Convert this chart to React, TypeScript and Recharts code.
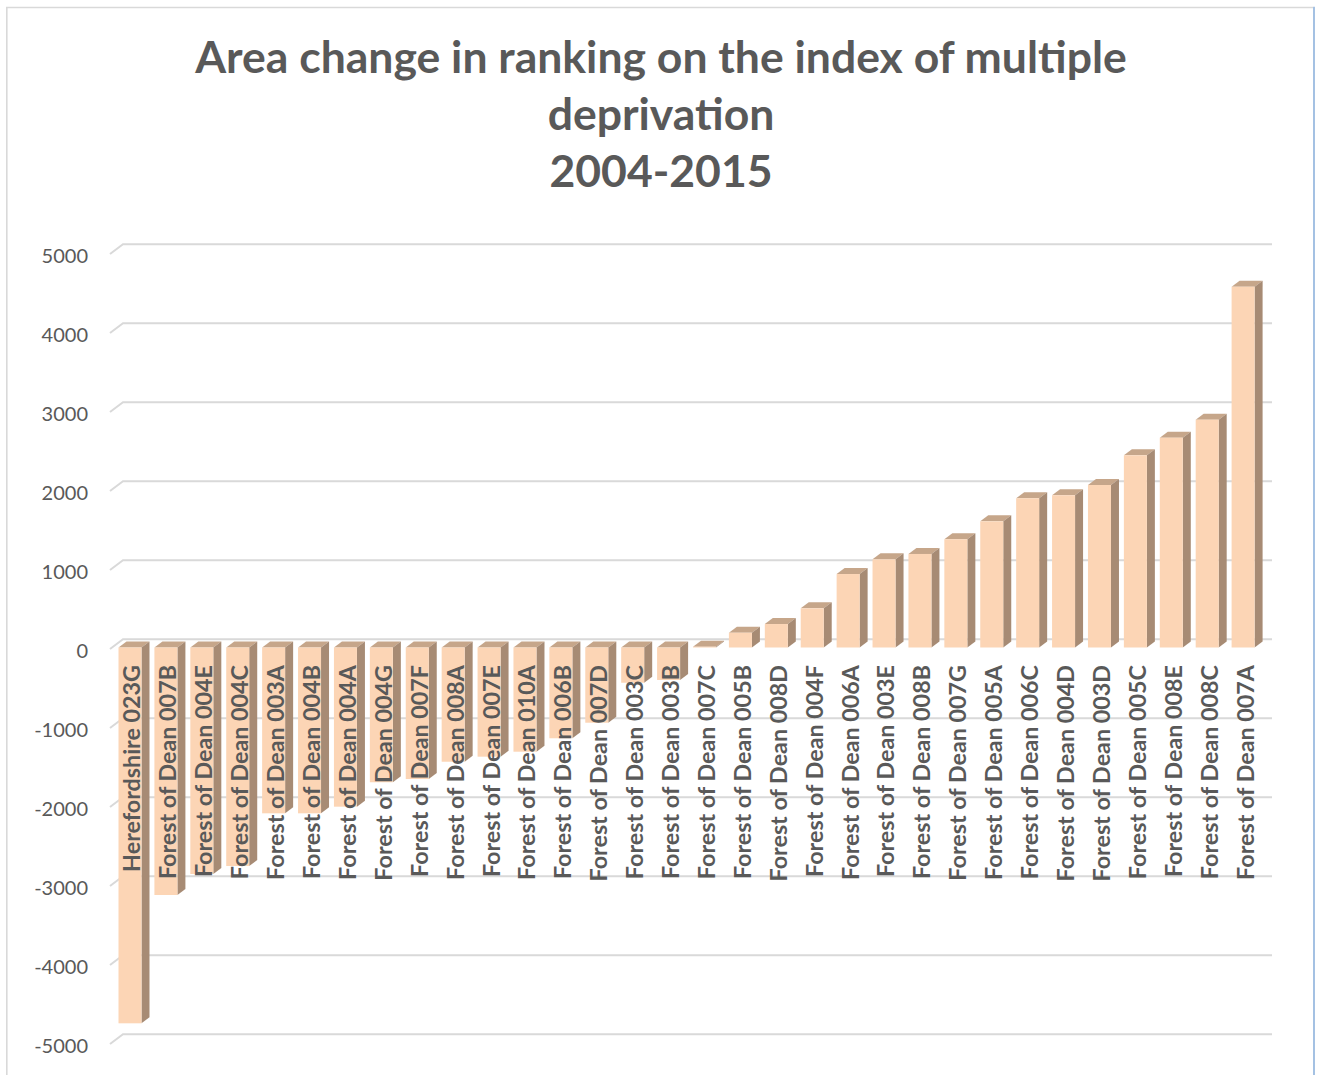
import { BarChart, Bar, XAxis, YAxis, CartesianGrid } from "recharts";

// areas, sorted by change in IMD rank 2004-2015
const areas = [
  "Herefordshire 023G",
  "Forest of Dean 007B",
  "Forest of Dean 004E",
  "Forest of Dean 004C",
  "Forest of Dean 003A",
  "Forest of Dean 004B",
  "Forest of Dean 004A",
  "Forest of Dean 004G",
  "Forest of Dean 007F",
  "Forest of Dean 008A",
  "Forest of Dean 007E",
  "Forest of Dean 010A",
  "Forest of Dean 006B",
  "Forest of Dean 007D",
  "Forest of Dean 003C",
  "Forest of Dean 003B",
  "Forest of Dean 007C",
  "Forest of Dean 005B",
  "Forest of Dean 008D",
  "Forest of Dean 004F",
  "Forest of Dean 006A",
  "Forest of Dean 003E",
  "Forest of Dean 008B",
  "Forest of Dean 007G",
  "Forest of Dean 005A",
  "Forest of Dean 006C",
  "Forest of Dean 004D",
  "Forest of Dean 003D",
  "Forest of Dean 005C",
  "Forest of Dean 008E",
  "Forest of Dean 008C",
  "Forest of Dean 007A",
];

const rankChange = [
  -4757, -3133, -2867, -2766, -2099, -2099, -2015, -1706, -1665, -1446, -1382,
  -1319, -1149, -952, -446, -411, 10, 187, 297, 496, 930, 1116, 1184, 1370,
  1597, 1889, 1927, 2057, 2433, 2656, 2884, 4567,
];

const yTicks = [-5000, -4000, -3000, -2000, -1000, 0, 1000, 2000, 3000, 4000, 5000];

const titleLines = [
  "Area change in ranking on the index of multiple",
  "deprivation",
  "2004-2015",
];

const data = areas.map((name, i) => ({ name, value: rankChange[i] }));

const FRONT = "#FCD5B5";
const TOP = "#C6A68A";
const SIDE = "#A78B74";
const TEXT = "#595959";
const GRID = "#D9D9D9";
const FONT = "Lato, 'Open Sans', sans-serif";

// depth of the bars and of the back wall
const BAR_DX = 8;
const BAR_DY = 6;
const WALL_DX = 10.5;
const WALL_DY = 8.2;
const FLOOR_DX = -2.5;
const FLOOR_DY = 1.5;

function Bar3D(props: any) {
  const { x, y, width, height } = props;
  if (x == null || y == null) return null;
  const top = height < 0 ? y + height : y;
  const h = Math.abs(height);
  return (
    <g>
      <path
        d={`M${x},${top} L${x + BAR_DX},${top - BAR_DY} L${x + width + BAR_DX},${top - BAR_DY} L${x + width},${top} Z`}
        fill={TOP}
      />
      <path
        d={`M${x + width},${top} L${x + width + BAR_DX},${top - BAR_DY} L${x + width + BAR_DX},${top + h - BAR_DY} L${x + width},${top + h} Z`}
        fill={SIDE}
      />
      <rect x={x} y={top} width={width} height={h} fill={FRONT} />
    </g>
  );
}

function GridLine(props: any) {
  const { x1, x2, y1 } = props;
  const bx = x1 + WALL_DX;
  const by = y1 - WALL_DY;
  return (
    <path
      d={`M${x1 + FLOOR_DX},${y1 + FLOOR_DY} L${bx},${by} L${x2 + WALL_DX},${by}`}
      stroke={GRID}
      strokeWidth={2}
      fill="none"
    />
  );
}

function AreaTick(props: any) {
  const { x, payload } = props;
  const ay = 665;
  return (
    <text
      x={x + 1}
      y={ay}
      transform={`rotate(-90, ${x + 1}, ${ay})`}
      textAnchor="end"
      dominantBaseline="central"
      fill={TEXT}
      fontFamily={FONT}
      fontWeight={700}
      fontSize={23.3}
    >
      {payload.value}
    </text>
  );
}

function ValueTick(props: any) {
  const { y, payload } = props;
  return (
    <text
      x={88}
      y={y + 2}
      textAnchor="end"
      dominantBaseline="central"
      fill={TEXT}
      fontFamily={FONT}
      fontSize={20}
    >
      {payload.value}
    </text>
  );
}

export default function App() {
  return (
    <div
      style={{
        position: "absolute",
        left: 0,
        top: 0,
        width: 1322,
        height: 1075,
        background: "#fff",
        overflow: "hidden",
      }}
    >
      <svg
        width={1322}
        height={1075}
        style={{ position: "absolute", left: 0, top: 0 }}
      >
        <path d="M6.8,1075 L6.8,7.5 L1313,7.5" stroke={GRID} strokeWidth={1.6} fill="none" />
        <line x1={1314} y1={6.7} x2={1314} y2={1075} stroke="#9BBBE0" strokeWidth={1.8} />
        {titleLines.map((t, i) => (
          <text
            key={t}
            x={661}
            y={73 + i * 57}
            textAnchor="middle"
            fill={TEXT}
            fontFamily={FONT}
            fontWeight={700}
            fontSize={44.5}
          >
            {t}
          </text>
        ))}
      </svg>
      <div style={{ position: "absolute", left: 0, top: 0 }}>
        <BarChart
          width={1322}
          height={1075}
          data={data}
          margin={{ top: 252.5, right: 60.5, bottom: 2.5, left: 52.5 }}
          barSize={23}
        >
          <CartesianGrid vertical={false} horizontal={(p: any) => <GridLine key={p.key ?? p.index} {...p} />} />
          <YAxis
            domain={[-5000, 5000]}
            ticks={yTicks}
            interval={0}
            width={60}
            axisLine={false}
            tickLine={false}
            tick={ValueTick}
          />
          <Bar dataKey="value" shape={Bar3D} isAnimationActive={false} />
          <XAxis
            dataKey="name"
            height={30}
            interval={0}
            axisLine={false}
            tickLine={false}
            tick={AreaTick}
          />
        </BarChart>
      </div>
    </div>
  );
}
